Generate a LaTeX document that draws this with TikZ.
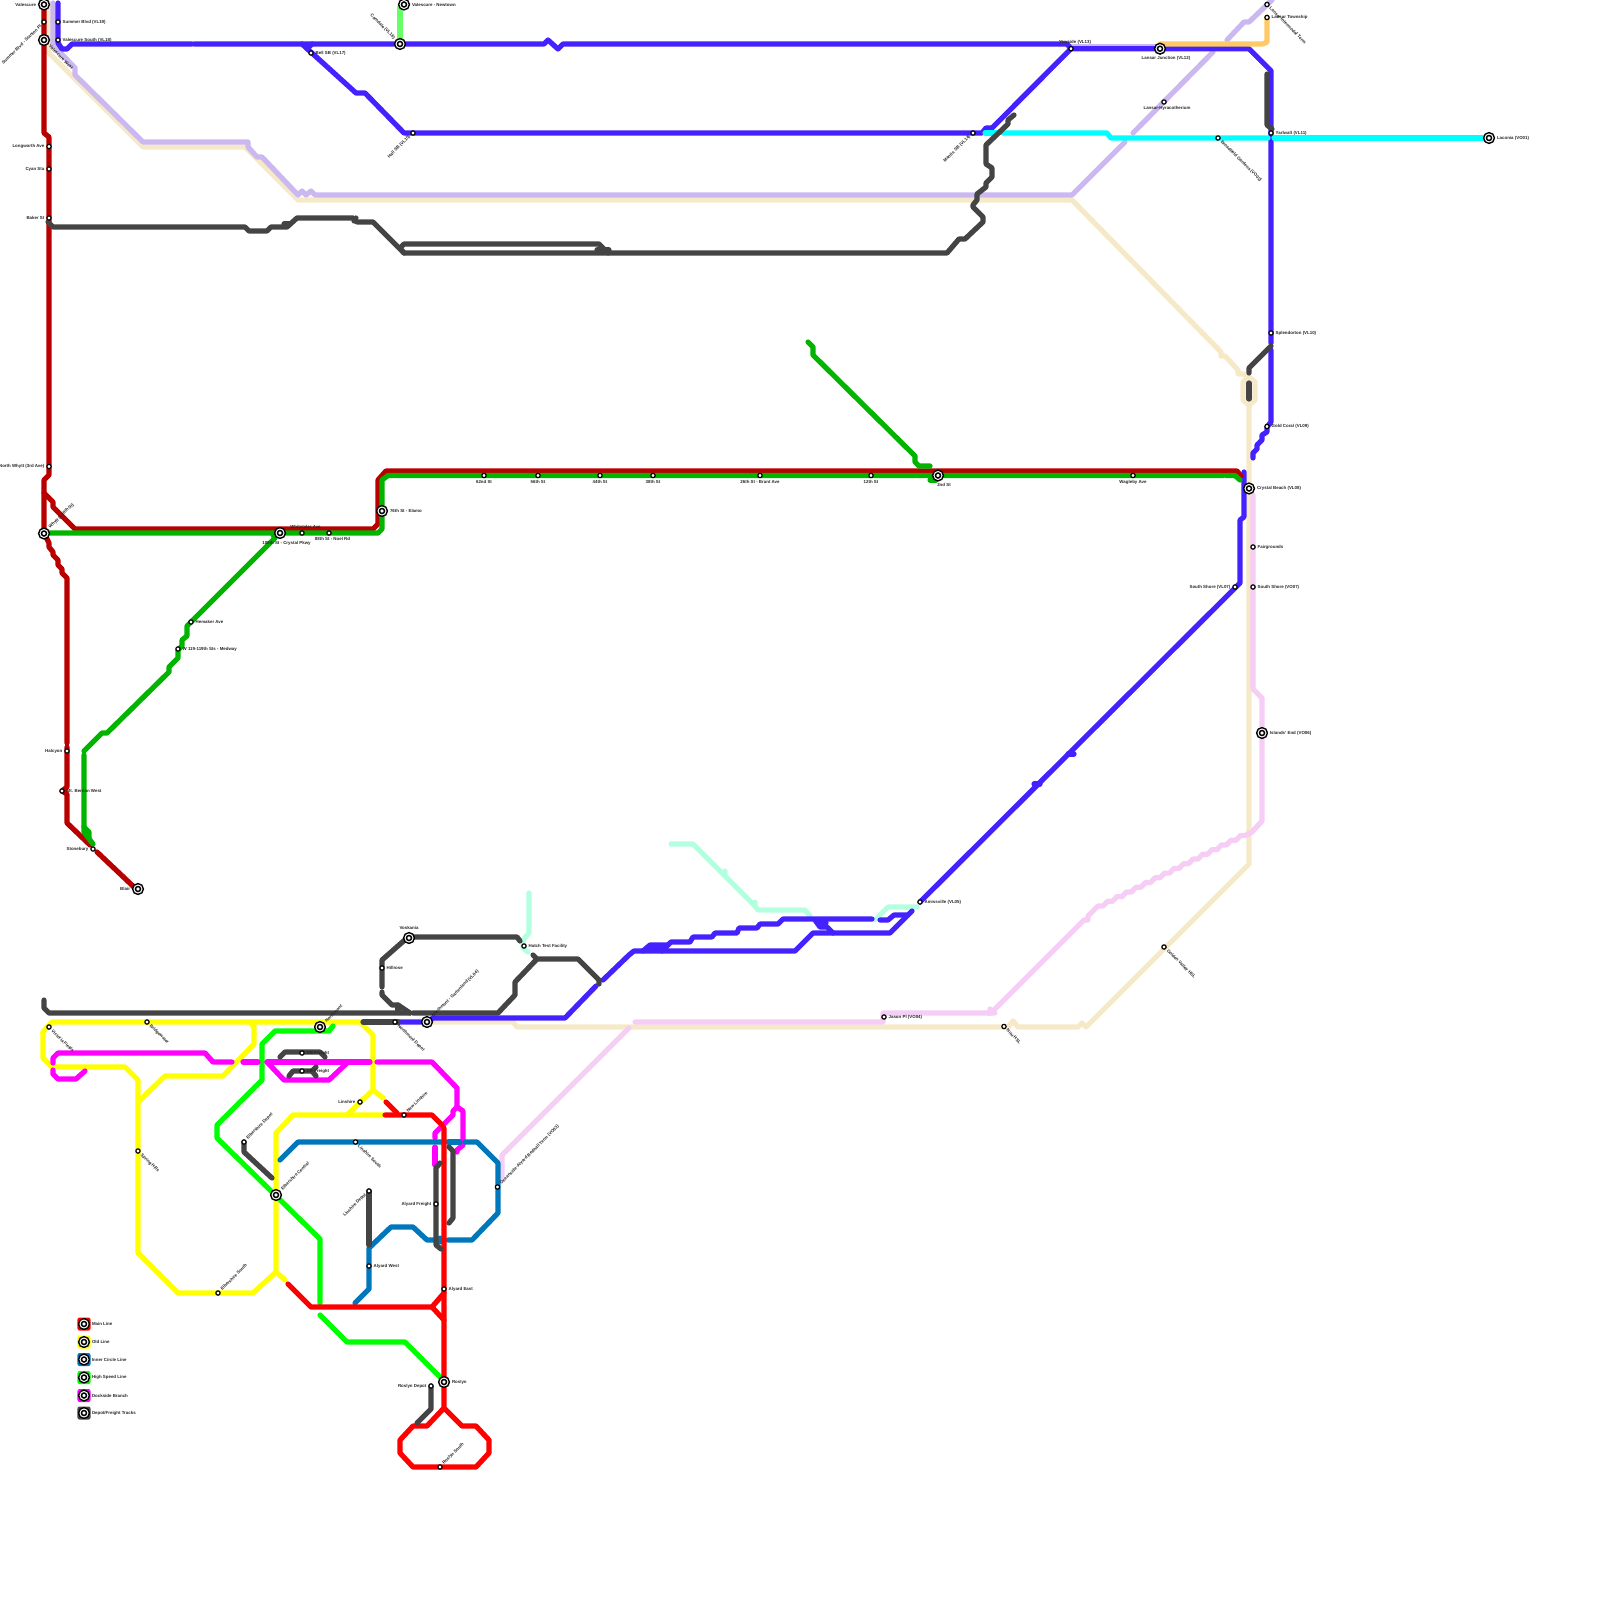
\documentclass[tikz,border=0pt]{standalone}
\usepackage{fontspec}
\setmainfont{Liberation Sans}
\usepackage{xcolor}
\usetikzlibrary{positioning}
\definecolor{linered}{HTML}{FF0000}
\definecolor{lineold}{HTML}{FFFF00}
\definecolor{linecircle}{HTML}{0077BB}
\definecolor{linespeed}{HTML}{00FF00}
\definecolor{linedock}{HTML}{FF00FF}
\definecolor{linedepot}{HTML}{444444}
\definecolor{linedark}{HTML}{B80000}
\definecolor{linegreen}{HTML}{00B400}
\definecolor{lineviolet}{HTML}{4422FF}
\definecolor{linelav}{HTML}{CBB8F0}
\definecolor{linebeige}{HTML}{F5E9C8}
\definecolor{linepink}{HTML}{F5CDF5}
\definecolor{linemint}{HTML}{B4FFE0}
\definecolor{linecyan}{HTML}{00FFFF}
\definecolor{lineorange}{HTML}{FFC966}
\definecolor{linenew}{HTML}{66FF66}
\tikzset{
  tube/.style={line width=0.052cm,line join=round,line cap=round},
  stn/.style={circle,draw=black,fill=white,line width=0.012cm,inner sep=0pt,minimum size=0.043cm},
  hub/.style={circle,draw=black,fill=white,line width=0.014cm,inner sep=0pt,minimum size=0.108cm,
    path picture={\draw[black,line width=0.015cm] (path picture bounding box.center) circle (0.025cm);}},
  legbox/.style={rectangle,rounded corners=0.02cm,inner sep=0pt,minimum size=0.13cm},
  lbl/.style={font=\fontsize{1.25}{1.5}\selectfont\bfseries,inner sep=0.012cm,text=black!85},
  lblr/.style={lbl,anchor=west},
  lbll/.style={lbl,anchor=east},
  lbla/.style={lbl,anchor=south},
  lblb/.style={lbl,anchor=north},
  lblup/.style={lbl,rotate=45,anchor=west},
  lbldn/.style={lbl,rotate=-45,anchor=west},
  lblupl/.style={lbl,rotate=45,anchor=east},
  lbldnl/.style={lbl,rotate=-45,anchor=east},
}
\begin{document}
\begin{tikzpicture}[x=0.01cm,y=-0.01cm]
  \useasboundingbox (0,0) rectangle (1600,1600);
  % beige line
  \draw[tube,linebeige] (49,3) -- (49,53) -- (143,147) -- (245,147) -- (298,200) -- (1072,200) -- (1221,352) -- (1221,356) -- (1225,356) -- (1238,370) -- (1238,374) -- (1243,374) -- (1249,377);
  \draw[tube,linebeige] (1249,377) -- (1255,382) -- (1255,400) -- (1249,405) -- (1243,400) -- (1243,382) -- cycle;
  \draw[tube,linebeige] (1249,405) -- (1249,864) -- (1086,1027) -- (1082,1023) -- (1078,1027) -- (1018,1027) -- (1013,1021) -- (1008,1027) -- (517,1027) -- (513,1022) -- (433,1022);
  % pink line
  \draw[tube,linepink] (1253,495) -- (1253,689) -- (1262,698) -- (1262,821) -- (1252,832) -- (1245,835.5) -- (1240.5,835.5) -- (1236,840.2) -- (1231,840.2) -- (1226.5,844.9) -- (1221.5,844.9) -- (1217,849.6) -- (1212,849.6) -- (1207.5,854.3) -- (1202.5,854.3) -- (1198,859) -- (1193,859) -- (1188.5,863.7) -- (1183.5,863.7) -- (1179,868.4) -- (1174,868.4) -- (1169.5,873.1) -- (1164.5,873.1) -- (1160,877.8) -- (1155,877.8) -- (1150.5,882.5) -- (1145.5,882.5) -- (1141,887.2) -- (1136,887.2) -- (1131.5,891.9) -- (1126.5,891.9) -- (1122,896.6) -- (1117,896.6) -- (1112.5,901.3) -- (1107.5,901.3) -- (1103,906) -- (1098,906) -- (1088,916) -- (1088,920) -- (1084,920) -- (991,1013) -- (883,1013) -- (883,1022) -- (635,1022);
  \draw[tube,linepink] (990,1009) -- (995,1013) -- (988,1013);
  \draw[tube,linepink] (629,1028) -- (502,1155) -- (502,1180);
  % lavender line
  \draw[tube,linelav] (53,3) -- (53,45) -- (75,68) -- (75,75) -- (143,142) -- (248,142) -- (248,147) -- (257,157) -- (262,157) -- (298,195) -- (302,191) -- (306,195) -- (311,191) -- (315,195) -- (1072,195) -- (1125,142);
  \draw[tube,linelav] (1133,133) -- (1213,52);
  \draw[tube,linelav] (1227,40) -- (1244,22) -- (1249,22) -- (1272,0);
  \draw[tube,linelav] (1071,47) -- (1160,47);
  % mint line
  \draw[tube,linemint] (671,844) -- (693,844) -- (725,876) -- (725,871) -- (725,876) -- (755,906) -- (755,902) -- (755,906) -- (758,910) -- (805,910) -- (810,916);
  \draw[tube,linemint] (875,920) -- (888,907) -- (917,907);
  \draw[tube,linemint] (529,893) -- (529,933) -- (523,940) -- (523,948) -- (528,952);
  % violet line
  \draw[tube,lineviolet] (58,3) -- (58,43) -- (62,49) -- (67,49) -- (72,44) -- (192,44);
  \draw[tube,lineviolet] (194,44) -- (544,44) -- (548,40) -- (558,49) -- (563,44) -- (1067,44) -- (1071,48.7) -- (1249,48.7) -- (1271,70.7) -- (1271,343);
  \draw[tube,lineviolet] (1271,350) -- (1271,422) -- (1267,427) -- (1267,432) -- (1262,435) -- (1262,440) -- (1257,445) -- (1257,449) -- (1253,453) -- (1253,458);
  \draw[tube,lineviolet] (1244,472) -- (1244,517) -- (1240,520) -- (1240,583) -- (920,902);
  \draw[tube,lineviolet] (1068,754) -- (1074,754);
  \draw[tube,lineviolet] (1034,784) -- (1040,784);
  \draw[tube,lineviolet] (312,44) -- (307,49);
  \draw[tube,lineviolet] (302,44) -- (356,93) -- (365,93) -- (404,133) -- (982,133) -- (986,128) -- (992,128) -- (1071,48.7);
  \draw[tube,lineviolet] (398,1022) -- (427,1022) -- (433,1018) -- (565,1018) -- (596,986);
  \draw[tube,lineviolet] (603,980) -- (629,955) -- (634,951) -- (795,951) -- (813,933) -- (890,933) -- (912,911);
  \draw[tube,lineviolet] (643,951) -- (650,945) -- (668,945) -- (662,951);
  \draw[tube,lineviolet] (650,948) -- (666,948);
  \draw[tube,lineviolet] (668,945) -- (671,942) -- (690,942) -- (693,937) -- (712,937) -- (715,933) -- (737,933) -- (739,928) -- (757,928) -- (760,924) -- (778,924) -- (783,919) -- (872,919);
  \draw[tube,lineviolet] (815,920) -- (820,927) -- (827,927) -- (833,933);
  \draw[tube,lineviolet] (818,923) -- (826,923);
  \draw[tube,lineviolet] (880,920) -- (888,920) -- (894,915) -- (907,915);
  % cyan line
  \draw[tube,linecyan] (985,133) -- (997,133);
  \draw[tube,linecyan] (1003,133) -- (1107,133) -- (1111,138) -- (1268,138);
  \draw[tube,linecyan] (1274,138) -- (1489,138);
  % orange line
  \draw[tube,lineorange] (1160,44) -- (1263,44) -- (1267,42) -- (1267,17);
  % dark red line
  \draw[tube,linedark] (44,4) -- (44,133) -- (49,137) -- (49,475) -- (44,480) -- (44,533) -- (49,543) -- (49,547) -- (53,552) -- (53,555) -- (58,560) -- (58,565) -- (62,569) -- (62,573) -- (67,578) -- (67,743);
  \draw[tube,linedark] (67,747) -- (67,787) -- (62,791) -- (67,794) -- (67,823) -- (90,845);
  \draw[tube,linedark] (97,852) -- (135,888);
  \draw[tube,linedark] (44,493) -- (53,502) -- (53,507) -- (75,529) -- (373,529) -- (378,524) -- (378,480) -- (386,471) -- (1237,471) -- (1241,476);
  % dark green line
  \draw[tube,linegreen] (44,533) -- (378,533) -- (382,529) -- (382,480) -- (388,475.5) -- (1223,475.5);
  \draw[tube,linegreen] (1226,475.5) -- (1235,475.5) -- (1240,480);
  \draw[tube,linegreen] (273,535) -- (275,538) -- (191,622) -- (187,626) -- (187,636) -- (182,640) -- (182,646) -- (178,650) -- (178,658) -- (169,667) -- (169,672) -- (107,733) -- (102,733) -- (84,751);
  \draw[tube,linegreen] (84,755) -- (84,832) -- (93,844);
  \draw[tube,linegreen] (84,827) -- (89,832) -- (89,838);
  \draw[tube,linegreen] (808,342) -- (813,347) -- (813,355) -- (915,456) -- (915,462) -- (919,466) -- (930,466);
  \draw[tube,linegreen] (930,480) -- (936,480);
  % old line
  \draw[tube,lineold] (43,1032) -- (43,1058) -- (52,1067) -- (125,1067) -- (138,1080) -- (138,1253) -- (178,1293) -- (253,1293) -- (276,1272) -- (276,1133) -- (293,1115) -- (383,1115);
  \draw[tube,lineold] (43,1032) -- (52,1022) -- (360,1022) -- (373,1035) -- (373,1090) -- (347,1115);
  \draw[tube,lineold] (373,1090) -- (383,1098);
  \draw[tube,lineold] (276,1272) -- (285,1280);
  \draw[tube,lineold] (250,1022) -- (254,1027) -- (254,1044) -- (223,1076) -- (165,1076) -- (138,1102);
  % high speed line
  \draw[tube,linespeed] (333,1026) -- (329,1031) -- (275,1031) -- (262,1044) -- (262,1080) -- (217,1125) -- (217,1138) -- (320,1239) -- (320,1303);
  \draw[tube,linespeed] (320,1315) -- (347,1342) -- (405,1342) -- (443,1380);
  \draw[tube,linenew] (400,7) -- (400,44);
  % dockside branch
  \draw[tube,linedock] (53,1063) -- (53,1058) -- (58,1053) -- (205,1053) -- (213,1062) -- (232,1062);
  \draw[tube,linedock] (243,1062) -- (258,1062);
  \draw[tube,linedock] (267,1062) -- (370,1062);
  \draw[tube,linedock] (377,1062) -- (432,1062) -- (457,1088) -- (457,1107) -- (453,1111) -- (453,1115) -- (435,1133) -- (435,1138);
  \draw[tube,linedock] (435,1147) -- (435,1165);
  \draw[tube,linedock] (457,1107) -- (463,1111) -- (463,1145) -- (457,1150) -- (457,1152);
  \draw[tube,linedock] (53,1070) -- (53,1074) -- (58,1079) -- (76,1079) -- (85,1071);
  \draw[tube,linedock] (267,1062) -- (284,1080) -- (329,1080) -- (347,1063);
  % inner circle line
  \draw[tube,linecircle] (280,1160) -- (298,1142) -- (442,1142);
  \draw[tube,linecircle] (448,1142) -- (460,1142);
  \draw[tube,linecircle] (465,1142) -- (477,1142) -- (498,1163) -- (498,1213) -- (472,1240) -- (448,1240);
  \draw[tube,linecircle] (433,1240) -- (427,1240) -- (413,1227) -- (391,1227) -- (369,1248) -- (369,1289) -- (355,1303);
  \fill[linecircle] (440,1240) circle (4.5);
  % main line
  \draw[tube,linered] (386,1102) -- (397,1113);
  \draw[tube,linered] (385,1115) -- (432,1115) -- (442,1125);
  \draw[tube,linered] (444,1128) -- (444,1408) -- (427,1426) -- (413,1426) -- (400,1440) -- (400,1453) -- (413,1467) -- (476,1467) -- (489,1453) -- (489,1440) -- (476,1426) -- (462,1426) -- (444,1408);
  \draw[tube,linered] (288,1284) -- (311,1307) -- (432,1307) -- (444,1293);
  \draw[tube,linered] (432,1307) -- (444,1320);
  % depot and freight tracks
  \draw[tube,linedepot] (48,222) -- (53,227) -- (245,227) -- (249,231) -- (267,231) -- (271,227) -- (287,227) -- (297,218) -- (353,218) -- (357,222) -- (373,222) -- (404,253) -- (947,253) -- (959,239) -- (965,239) -- (983,222) -- (983,217) -- (973,207) -- (973,205) -- (977,200) -- (977,194) -- (986,187) -- (986,183) -- (992,177) -- (992,168) -- (986,164) -- (986,145) -- (1008,124) -- (1008,120) -- (1014,115);
  \draw[tube,linedepot] (284,224) -- (290,224);
  \draw[tube,linedepot] (354,221) -- (356,218);
  \draw[tube,linedepot] (404,253) -- (400,248) -- (404,244) -- (599,244) -- (608,253);
  \draw[tube,linedepot] (597,250) -- (609,250);
  \draw[tube,linedepot] (44,1000) -- (44,1008) -- (49,1013) -- (410,1013);
  \draw[tube,linedepot] (407,938) -- (382,960) -- (382,987);
  \draw[tube,linedepot] (382,992) -- (382,995) -- (392,1005) -- (398,1005) -- (410,1013);
  \draw[tube,linedepot] (398,1005) -- (398,1011);
  \draw[tube,linedepot] (412,937) -- (517,937) -- (520,941);
  \draw[tube,linedepot] (533,955) -- (537,959) -- (578,959) -- (599,980) -- (599,984);
  \draw[tube,linedepot] (537,959) -- (515,982) -- (515,995) -- (498,1013) -- (413,1013);
  \draw[tube,linedepot] (363,1022) -- (398,1022);
  \draw[tube,linedepot] (280,1057) -- (285,1052) -- (320,1052) -- (325,1057);
  \draw[tube,linedepot] (289,1076) -- (293,1071) -- (312,1071) -- (316,1067);
  \draw[tube,linedepot] (312,1071) -- (316,1076);
  \draw[tube,linedepot] (244,1142) -- (244,1152) -- (272,1178);
  \draw[tube,linedepot] (369,1191) -- (369,1245);
  \draw[tube,linedepot] (440,1163) -- (436,1168) -- (436,1245) -- (441,1249);
  \draw[tube,linedepot] (449,1147) -- (453,1151) -- (453,1218) -- (449,1223);
  \draw[tube,linedepot] (431,1386) -- (431,1409) -- (417,1423);
  \draw[tube,linedepot] (1267,74) -- (1267,125) -- (1272,129);
  \draw[tube,linedepot] (1271,346) -- (1249,368) -- (1249,373);
  \draw[tube,linedepot] (1249,383) -- (1249,399);
  % stations, north west
  \node[hub,label={[lbll]left:Valescure}] (valescure) at (44,4.5) {};
  \node[stn,label={[lblupl]225:Summer Blvd - Stanton Pl}] (summerwest) at (44,22) {};
  \node[hub,label={[lbldn]-45:Valescure West}] (valescurewest) at (44,40) {};
  \node[stn,label={[lblr]right:Summer Blvd (VL19)}] (summerblvd) at (58,22) {};
  \node[stn,label={[lblr]right:Valescure South (VL18)}] (valescuresouth) at (58,40) {};
  \node[stn,label={[lblr]right:Bell SB (VL17)}] (bellsb) at (311,53) {};
  \node[hub,label={[lbldnl]135:Camdale (VL16)}] (camdale) at (400,44) {};
  \node[hub,label={[lblr]right:Valescure - Newtown}] (newtown) at (404,4.5) {};
  \node[stn,label={[lblupl]225:Hall SB (VL15)}] (hallsb) at (413,133) {};
  \node[stn,label={[lblupl]225:Mantis SB (VL14)}] (mantissb) at (973,133) {};
  \node[stn,label={[lbll]left:Longworth Ave}] (longworth) at (49,146.5) {};
  \node[stn,label={[lbll]left:Cyan Sta}] (cyansta) at (49,169) {};
  \node[stn,label={[lbll]left:Baker St}] (bakerst) at (49,218) {};
  \node[stn,label={[lbll]left:North Whytt (3rd Ave)}] (northwhytt) at (49,466.5) {};
  % stations, middle band
  \node[hub,label={[lblup]45:Whytt (130th St)}] (whytt) at (44,533.5) {};
  \node[hub,label={[lblb,xshift=0.065cm]below:100th St - Crystal Pkwy}] (crystalpkwy) at (280,533) {};
  \node[stn,label={[lbla,xshift=0.035cm]above:Whitstaler Ave}] (whitstaler) at (302,533) {};
  \node[stn,label={[lblb,xshift=0.035cm]below:88th St - Noel Rd}] (noelrd) at (329,533) {};
  \node[hub,label={[lblr]right:76th St - Elamo}] (elamo) at (382,511) {};
  \node[stn,label={[lblb]below:62nd St}] (st62) at (484,475.5) {};
  \node[stn,label={[lblb]below:56th St}] (st56) at (538,475.5) {};
  \node[stn,label={[lblb]below:44th St}] (st44) at (600,475.5) {};
  \node[stn,label={[lblb]below:38th St}] (st38) at (653,475.5) {};
  \node[stn,label={[lblb]below:26th St - Brant Ave}] (st26) at (760,475.5) {};
  \node[stn,label={[lblb]below:12th St}] (st12) at (871,475.5) {};
  \node[hub,label={[lblb,xshift=0.06cm]below:2nd St}] (st2) at (938,475.5) {};
  \node[stn,label={[lblb]below:Wagleby Ave}] (wagleby) at (1133,475.5) {};
  \node[stn,label={[lblr]right:Hemaker Ave}] (hemaker) at (191,622) {};
  \node[stn,label={[lblr]right:W 119-119th Sts - Medway}] (medway) at (178,649) {};
  \node[stn,label={[lbll]left:Halcyon}] (halcyon) at (67,751) {};
  \node[stn,label={[lblr]right:Mt. Bernan West}] (bernan) at (62,791) {};
  \node[stn,label={[lbll]left:Stonebury}] (stonebury) at (93,849) {};
  \node[hub,label={[lbll]left:Blair}] (blair) at (138,889) {};
  % stations, north east
  \node[stn,label={[lbla,xshift=0.04cm]above:Yewside (VL13)}] (yewside) at (1071,48.7) {};
  \node[hub,label={[lblb,xshift=0.06cm]below:Lansar Junction (VL12)}] (lansarjct) at (1160,48.7) {};
  \node[stn,label={[lblb,xshift=0.03cm]below:Lansar-Hyracotherium}] (hyraco) at (1164,102) {};
  \node[stn,label={[lbldn]-45:Lansar Intermodal Term}] (intermodal) at (1267,4.5) {};
  \node[stn,label={[lblr]right:Lansar Township}] (township) at (1267,17.5) {};
  \node[stn,label={[lblr]right:Yarlwalt (VL11)}] (yarlwalt) at (1271,133) {};
  \node[stn,label={[lbldn]-45:Broadfield Gardens (VO02)}] (broadfield) at (1218,138) {};
  \node[hub,label={[lblr]right:Laconia (VO01)}] (laconia) at (1489,138) {};
  \node[stn,label={[lblr]right:Splendorton (VL10)}] (splendorton) at (1271,333) {};
  \node[stn,label={[lblr]right:Gold Coral (VL09)}] (goldcoral) at (1267,426.5) {};
  \node[hub,label={[lblr]right:Crystal Beach (VL08)}] (crystalbeach) at (1249,488.5) {};
  \node[stn,label={[lblr]right:Fairgrounds}] (fairgrounds) at (1253,547) {};
  \node[stn,label={[lbll]left:South Shore (VL07)}] (shorevl) at (1235,587) {};
  \node[stn,label={[lblr]right:South Shore (VO07)}] (shorevo) at (1253,587) {};
  \node[hub,label={[lblr]right:Islands' End (VO06)}] (islandsend) at (1262,733) {};
  \node[stn,label={[lblr]right:Amissville (VL05)}] (amissville) at (920,902) {};
  \node[stn,label={[lbldn]-45:Golden Valley HSL}] (goldenvalley) at (1164,947) {};
  \node[stn,label={[lbldn]-45:Nitu HSL}] (nitu) at (1004,1026.5) {};
  \node[stn,label={[lblr]right:Jason Pl (VO04)}] (jasonpl) at (884,1017) {};
  % stations, south west
  \node[hub,label={[lbla]above:Voskania}] (voskania) at (409,938) {};
  \node[stn,label={[lblr]right:Hillrose}] (hillrose) at (382,968) {};
  \node[stn,label={[lblr]right:Hatch Test Facility}] (hatch) at (524,946) {};
  \node[hub,label={[lblup]45:Northmont - Gartenland (VL04)}] (gartenland) at (427,1022) {};
  \node[stn,label={[lbldn]-45:Northmont Depot}] (northmontdepot) at (395,1022) {};
  \node[hub,label={[lblup]45:Northmont}] (northmont) at (320,1027) {};
  \node[stn,label={[lbldn]-45:Victoria Fields}] (victoria) at (49,1027) {};
  \node[stn,label={[lbldn]-45:Bridgewater}] (bridgewater) at (147,1022) {};
  \node[stn,label={[lblr]right:DB Freight}] (dbupper) at (302,1053) {};
  \node[stn,label={[lblr]right:DB Freight}] (dblower) at (302,1071) {};
  \node[stn,label={[lbll]left:Linshire}] (linshire) at (360,1102) {};
  \node[stn,label={[lblup]45:New Linshire}] (newlinshire) at (404,1115) {};
  \node[stn,label={[lbldn]-45:Linshire South}] (linshiresouth) at (355.5,1142) {};
  \node[stn,label={[lblup]45:Elbershire Depot}] (elberdepot) at (244,1142) {};
  \node[stn,label={[lbldn]-45:Spring Hills}] (springhills) at (138,1151) {};
  \node[hub,label={[lblup]45:Elbershire Central}] (elbercentral) at (276,1195) {};
  \node[stn,label={[lblupl]225:Linshire Depot}] (linshiredepot) at (369,1191) {};
  \node[stn,label={[lbll]left:Alyard Freight}] (alyardfreight) at (436,1204) {};
  \node[stn,label={[lblup]45:Oceanside-Alyard Bedhall Term (VO03)}] (oceanside) at (497.5,1187) {};
  \node[stn,label={[lblr]right:Alyard West}] (alyardwest) at (369,1266) {};
  \node[stn,label={[lblr]right:Alyard East}] (alyardeast) at (444,1289) {};
  \node[stn,label={[lblup]45:Elbershire South}] (elbersouth) at (218,1293) {};
  \node[hub,label={[lblr]right:Roslyn}] (roslyn) at (444,1382) {};
  \node[stn,label={[lbll]left:Roslyn Depot}] (roslyndepot) at (431,1386) {};
  \node[stn,label={[lblup]45:Roslyn South}] (roslynsouth) at (440,1467) {};
  % legend
  \node[legbox,fill=linered] (legmain) at (84,1324) {};
  \node[hub,label={[lblr]right:Main Line}] (hubmain) at (legmain) {};
  \node[legbox,fill=lineold] (legold) at (84,1342) {};
  \node[hub,label={[lblr]right:Old Line}] (hubold) at (legold) {};
  \node[legbox,fill=linecircle] (legcircle) at (84,1359.5) {};
  \node[hub,label={[lblr]right:Inner Circle Line}] (hubcircle) at (legcircle) {};
  \node[legbox,fill=linespeed] (legspeed) at (84,1377.5) {};
  \node[hub,label={[lblr]right:High Speed Line}] (hubspeed) at (legspeed) {};
  \node[legbox,fill=linedock] (legdock) at (84,1395.5) {};
  \node[hub,label={[lblr]right:Dockside Branch}] (hubdock) at (legdock) {};
  \node[legbox,fill=linedepot] (legdepot) at (84,1413) {};
  \node[hub,label={[lblr]right:Depot/Freight Tracks}] (hubdepot) at (legdepot) {};
\end{tikzpicture}
\end{document}
